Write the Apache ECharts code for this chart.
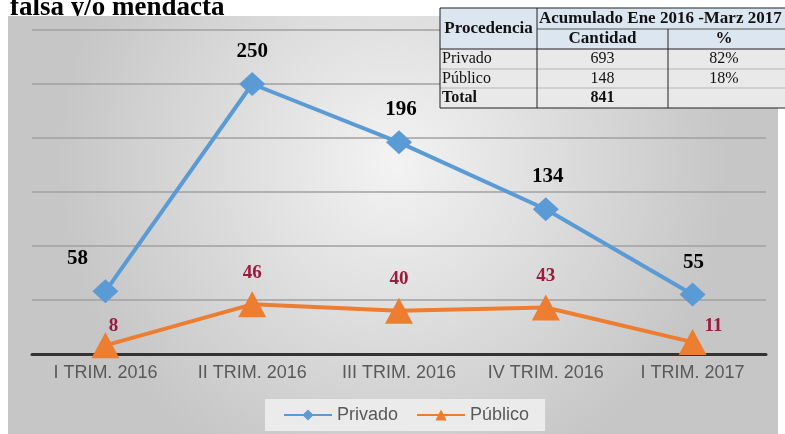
<!DOCTYPE html>
<html>
<head>
<meta charset="utf-8">
<script src="https://cdn.jsdelivr.net/npm/echarts@6/dist/echarts.min.js"></script>
<style>
  html, body { margin: 0; padding: 0; background: #fff; }
  #chart { width: 785px; height: 434px; }
</style>
</head>
<body>
<div id="chart"></div>
<script>
/** datos del gráfico */
const categories = ["I TRIM. 2016", "II TRIM. 2016", "III TRIM. 2016", "IV TRIM. 2016", "I TRIM. 2017"]
const privado = [58, 250, 196, 134, 55]
const publico = [8, 46, 40, 43, 11]

/** datos de la tabla */
const tablaProcedencia = ["Privado", "Público"]
const tablaCantidad = [693, 148]
const tablaPorcentaje = ["82%", "18%"]
const tablaTotal = 841

// desplazamientos de etiquetas (solo estilo)
const offsetPrivado = [[-28, 0], [0, 0], [2, 0], [2, 0], [1, 0]]
const offsetPublico = [[8, 12], [0, 0], [0, 0], [0, 0], [21, 15]]

const serif = "'Liberation Serif', 'Times New Roman', serif"
const sans = "'Liberation Sans', Arial, sans-serif"

function withOffsets(values, offsets) {
    return values.map((v, i) => ({ value: v, label: { offset: offsets[i] } }))
}

/** tabla dibujada con elementos graphic */
function buildTable() {
    let x0 = 440, x1 = 537, x2 = 668, x3 = 790
    let y0 = 8, y1 = 29, y2 = 49, y3 = 69, y4 = 88, y5 = 108
    let els = []
    let line = (a, b, c, d, color, w) => els.push({
        type: 'line', z: 101, shape: { x1: a, y1: b, x2: c, y2: d },
        style: { stroke: color || '#222', lineWidth: w || 1 }
    })
    let txt = (t, x, y, align, bold, size) => els.push({
        type: 'text', z: 102, x: x, y: y,
        style: { text: t, fill: '#111', font: (bold ? 'bold ' : '') + (size || 16) + 'px ' + serif, align: align, verticalAlign: 'middle' }
    })
    els.push({ type: 'rect', z: 100, shape: { x: x0, y: y0, width: x3 - x0, height: y2 - y0 }, style: { fill: '#dce6f1' } })
    els.push({ type: 'rect', z: 100, shape: { x: x0, y: y2, width: x3 - x0, height: y5 - y2 }, style: { fill: '#e9e9e9' } })
    line(x0, y0, x3, y0)
    line(x1, y1, x3, y1, '#555')
    line(x0, y2, x3, y2)
    line(x0, y3, x3, y3, '#b5b5b5')
    line(x0, y4, x3, y4, '#b5b5b5')
    line(x0, y5, x3, y5)
    line(x0, y0, x0, y5)
    line(x1, y0, x1, y5)
    line(x2, y1, x2, y5)

    txt("Procedencia", (x0 + x1) / 2, (y0 + y2) / 2, 'center', true, 17)
    txt("Acumulado Ene 2016 -Marz 2017", x1 + 2, (y0 + y1) / 2, 'left', true, 17)
    txt("Cantidad", (x1 + x2) / 2, (y1 + y2) / 2, 'center', true, 17)
    txt("%", 724, (y1 + y2) / 2, 'center', true, 17)
    let rowsY = [(y2 + y3) / 2, (y3 + y4) / 2]
    for (let i = 0; i < tablaProcedencia.length; i++) {
        txt(tablaProcedencia[i], x0 + 2, rowsY[i], 'left', false)
        txt(String(tablaCantidad[i]), (x1 + x2) / 2, rowsY[i], 'center', false)
        txt(tablaPorcentaje[i], 724, rowsY[i], 'center', false)
    }
    txt("Total", x0 + 2, (y4 + y5) / 2, 'left', true)
    txt(String(tablaTotal), (x1 + x2) / 2, (y4 + y5) / 2, 'center', true)
    return els
}

let chart = echarts.init(document.getElementById('chart'))

let option = {
    animation: false,
    backgroundColor: '#fff',
    grid: { left: 32, right: 19, top: 30, bottom: 80 },
    xAxis: {
        type: 'category',
        data: categories,
        boundaryGap: true,
        axisLine: { lineStyle: { color: '#333', width: 3 } },
        axisTick: { show: false },
        axisLabel: { interval: 0, color: '#595959', fontFamily: sans, fontSize: 18, margin: 10 }
    },
    yAxis: {
        type: 'value',
        min: 0,
        max: 300,
        interval: 50,
        axisLabel: { show: false },
        axisLine: { show: false },
        axisTick: { show: false },
        splitLine: { lineStyle: { color: '#a0a0a0', width: 1.5 } }
    },
    legend: {
        data: ['Privado', 'Público'],
        left: 265,
        top: 399,
        backgroundColor: '#ebebeb',
        padding: [7, 16, 7, 18],
        itemWidth: 48,
        itemHeight: 14,
        itemGap: 18,
        textStyle: { color: '#595959', fontFamily: sans, fontSize: 18 }
    },
    graphic: [
        {
            type: 'text', z: -20, left: 10, top: -5,
            style: { text: 'falsa y/o mendacta', fill: '#000', font: 'bold 27px ' + serif }
        },
        {
            type: 'rect', z: -10, shape: { x: 8, y: 16, width: 770, height: 418 },
            style: {
                fill: {
                    type: 'radial', x: 0.5, y: 0.35, r: 0.8,
                    colorStops: [{ offset: 0, color: '#f3f3f3' }, { offset: 1, color: '#c6c6c6' }]
                }
            }
        }
    ].concat(buildTable()),
    series: [
        {
            name: 'Privado',
            type: 'line',
            data: withOffsets(privado, offsetPrivado),
            symbol: 'diamond',
            symbolSize: [26, 24],
            itemStyle: { color: '#5b9bd5' },
            lineStyle: { color: '#5b9bd5', width: 4 },
            label: {
                show: true, position: 'top', distance: 10,
                color: '#000', fontFamily: serif, fontWeight: 'bold', fontSize: 21
            }
        },
        {
            name: 'Público',
            type: 'line',
            data: withOffsets(publico, offsetPublico),
            symbol: 'triangle',
            symbolSize: [28, 26],
            itemStyle: { color: '#ed7d31' },
            lineStyle: { color: '#ed7d31', width: 4 },
            label: {
                show: true, position: 'top', distance: 9,
                color: '#9c1a3c', fontFamily: serif, fontWeight: 'bold', fontSize: 19
            }
        }
    ]
}

chart.setOption(option)
</script>
</body>
</html>
